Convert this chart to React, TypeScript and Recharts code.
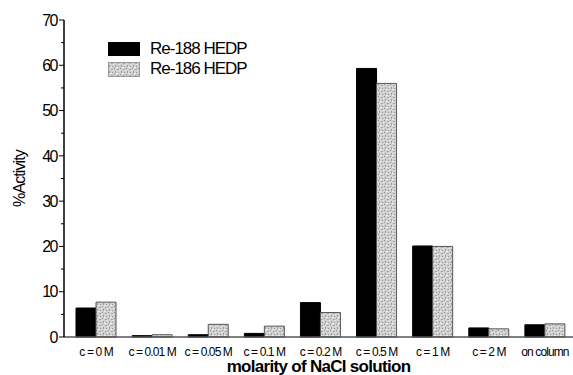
import { BarChart, Bar, XAxis, YAxis, Label } from "recharts";

// ── Data ──
const categories = [
  "c = 0 M",
  "c = 0.01 M",
  "c = 0.05 M",
  "c = 0.1 M",
  "c = 0.2 M",
  "c = 0.5 M",
  "c = 1 M",
  "c = 2 M",
  "on column",
];
const re188 = [6.4, 0.3, 0.5, 0.8, 7.6, 59.3, 20.1, 2.0, 2.7];
const re186 = [7.7, 0.5, 2.8, 2.4, 5.4, 56.0, 20.0, 1.8, 2.9];
const yTicks = [0, 5, 10, 15, 20, 25, 30, 35, 40, 45, 50, 55, 60, 65, 70];
const seriesNames = ["Re-188 HEDP", "Re-186 HEDP"];

const data = categories.map((name, i) => ({ name, re188: re188[i], re186: re186[i] }));

const FONT = "'Liberation Sans', Arial, sans-serif";

// ── Gray speckle pattern ──
function GrayPattern({ id }: { id: string }) {
  return (
    <pattern id={id} width="6" height="6" patternUnits="userSpaceOnUse">
      <rect width="6" height="6" fill="#d2d2d2" />
      <rect x="0" y="0" width="1" height="1" fill="#8a8a8a" />
      <rect x="3" y="1" width="2" height="1" fill="#a5a5a5" />
      <rect x="1" y="3" width="1" height="2" fill="#9c9c9c" />
      <rect x="4" y="4" width="1" height="1" fill="#939393" />
      <rect x="2" y="5" width="2" height="1" fill="#ebebeb" />
      <rect x="5" y="2" width="1" height="1" fill="#e8e8e8" />
    </pattern>
  );
}

// ── Y tick with major/minor marks ──
function YTick({ x, y, payload }: { x?: number; y?: number; payload?: { value: number } }) {
  const v = payload?.value ?? 0;
  const major = v % 10 === 0;
  const ax = x ?? 0;
  return (
    <g>
      <line x1={ax - (major ? 5 : 3)} y1={y} x2={ax} y2={y} stroke="#000" strokeWidth={1} />
      {major && (
        <text
          x={ax - 7}
          y={y}
          dy="0.36em"
          textAnchor="end"
          fontSize={16}
          fontFamily={FONT}
          letterSpacing={-1.5}
          fill="#000"
        >
          {v}
        </text>
      )}
    </g>
  );
}

// ── Legend (overlay) ──
function LegendBox() {
  const row = { display: "flex", alignItems: "center", height: 20 } as const;
  const txt = { fontFamily: FONT, fontSize: 17, marginLeft: 10, color: "#000", letterSpacing: -1 } as const;
  return (
    <div style={{ position: "absolute", left: 108, top: 39 }}>
      <div style={row}>
        <div style={{ width: 32, height: 14, background: "#000" }} />
        <span style={txt}>{seriesNames[0]}</span>
      </div>
      <div style={row}>
        <svg width={32} height={15}>
          <defs>
            <GrayPattern id="legGray" />
          </defs>
          <rect x={0.5} y={0.5} width={31} height={14} fill="url(#legGray)" stroke="#999" />
        </svg>
        <span style={txt}>{seriesNames[1]}</span>
      </div>
    </div>
  );
}

export default function App() {
  return (
    <div style={{ position: "absolute", left: 0, top: 0, width: 573, height: 375, background: "#fff" }}>
      <BarChart
        width={573}
        height={375}
        data={data}
        margin={{ top: 20, right: 0, left: 0, bottom: 0 }}
        barGap={0}
      >
        <defs>
          <GrayPattern id="barGray" />
        </defs>
        <XAxis
          dataKey="name"
          height={38}
          tickLine={false}
          tickSize={0}
          tickMargin={10}
          padding={{ left: 4, right: 0 }}
          interval={0}
          axisLine={{ stroke: "#555", strokeWidth: 1.5 }}
          tick={{ fontSize: 12, fontFamily: FONT, fill: "#000", letterSpacing: -0.9 }}
        >
          <Label
            value="molarity of NaCl solution"
            position="insideBottom"
            offset={3}
            style={{ fontSize: 17, fontWeight: "bold", fontFamily: FONT, fill: "#000", letterSpacing: -0.7 }}
          />
        </XAxis>
        <YAxis
          width={64}
          domain={[0, 70]}
          ticks={yTicks}
          interval={0}
          tickLine={false}
          tickSize={0}
          tickMargin={0}
          axisLine={{ stroke: "#000", strokeWidth: 1.5 }}
          tick={<YTick />}
        >
          <Label
            value="%Activity"
            angle={-90}
            position="insideLeft"
            offset={19}
            style={{ fontSize: 16, fontFamily: FONT, fill: "#000", textAnchor: "middle", letterSpacing: -0.9 }}
          />
        </YAxis>
        <Bar dataKey="re188" name={seriesNames[0]} fill="#000" stroke="#000" barSize={20} isAnimationActive={false} />
        <Bar
          dataKey="re186"
          name={seriesNames[1]}
          fill="url(#barGray)"
          stroke="#555"
          strokeWidth={1}
          barSize={20}
          isAnimationActive={false}
        />
      </BarChart>
      <LegendBox />
    </div>
  );
}
